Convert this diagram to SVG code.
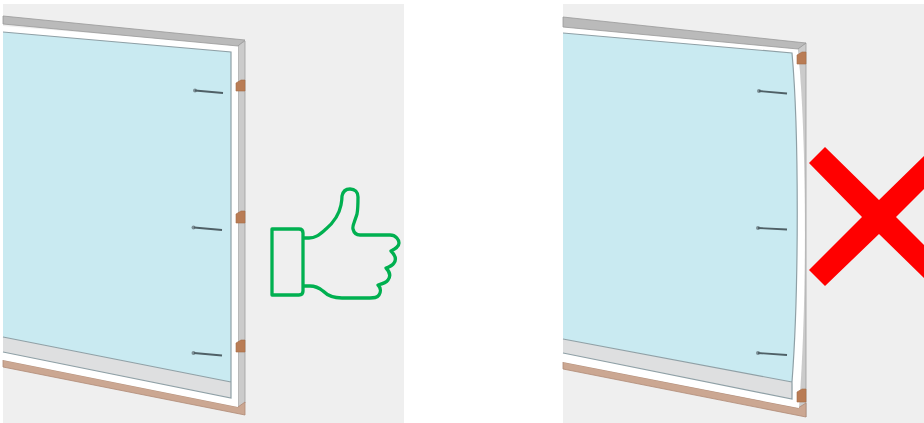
<svg xmlns="http://www.w3.org/2000/svg" width="924" height="423" viewBox="0 0 924 423">
<defs><filter id="soft" x="-2%" y="-2%" width="104%" height="104%"><feGaussianBlur stdDeviation="0.55"/></filter></defs>
<style>
.wall{fill:#efefef}
.glass{fill:#c9eaf1}
.band{fill:#dedfe0}
.frame{fill:#fff}
.rail{fill:#bababa;stroke:#999;stroke-width:.8}
.post{fill:#cbcbcb;stroke:#a0a0a0;stroke-width:.8}
.sill{fill:#cba792;stroke:#b08a76;stroke-width:.8}
.edge{fill:none;stroke:#8fa0a6;stroke-width:1.2}
.bracket{fill:#b97c55;stroke:#a66c48;stroke-width:.6}
.screw{fill:none;stroke:#4f6066;stroke-width:1.8}
.head{fill:#7d9097}
.hand{fill:none;stroke:#00b050;stroke-width:3.3;stroke-linejoin:round}
.cross{fill:#f00}
</style>
<rect width="924" height="423" fill="#fff"/>
<g id="good-panel" filter="url(#soft)">
<rect class="wall" x="3" y="4" width="401" height="419"/>
<polygon class="post" points="238,45 245,41 245,403 238,408"/>
<polygon class="sill" points="3,360 238,407 245,402 245,415 3,367"/>
<polygon class="frame" points="3,26 238,45 238,407 3,360"/>
<polygon class="glass" points="3,32 231,52 231,382 3,337"/>
<polygon class="band" points="3,337 231,382 231,398 3,352"/>
<path class="edge" d="M3 32L231 52V398L3 352M3 337L231 382"/>
<polygon class="rail" points="3,16 245,40 238,46 3,24"/>
<path class="bracket" d="M236 83l5-3h4v11h-9z"/>
<path class="bracket" d="M236 214l5-3h4v12h-9z"/>
<path class="bracket" d="M236 343l5-3h4v12h-9z"/>
<circle class="head" cx="195" cy="90.500" r="2"/>
<path class="screw" d="M195 90.500L223 93"/>
<circle class="head" cx="193.500" cy="227.500" r="2"/>
<path class="screw" d="M194 227.500L222 230"/>
<circle class="head" cx="193.500" cy="353" r="2"/>
<path class="screw" d="M194 353L222 355.500"/>
</g>
<g id="thumbs-up">
<path class="hand" d="M272 229H299Q303 229 303 233V291Q303 295 299 295H272Z"/>
<path class="hand" d="M304 238H309C316 238 320 234 326 229C333 223 339 215 341 205C342 200 342 197 342 196C343 191 346 189 350 189C355 189 358 192 358 197C358 205 358 209 357 214C355 221 352 226 353 229C354 233 356 235 360 235H390C396 235 399 240 399 243C399 247 395 249 391 251C395 255 397 259 394 263C392 266 389 267 386 268C390 272 391 276 388 280C386 283 382 284 378 285C381 288 381 292 379 295C377 298 374 298 370 298H342C333 298 328 296 323 291C318 287 315 286 310 286H304"/>
</g>
<g id="bad-panel" filter="url(#soft)">
<rect class="wall" x="563" y="4" width="365" height="423"/>
<path class="post" d="M798 48L806 43V417L798 408C804 340 804 130 798 48Z"/>
<polygon class="sill" points="563,362 798,408 806,403 806,417 563,369"/>
<path class="frame" d="M563 27L798 48C806 130 808 290 799 408L563 362Z"/>
<path class="glass" d="M563 33L792 53C799 130 799 290 792 382L563 339Z"/>
<path class="band" d="M563 339L792 382C793 388 792 394 792 399L563 353Z"/>
<path class="edge" d="M563 33L792 53C799 130 799 290 792 382V399L563 353M563 339L792 382"/>
<polygon class="rail" points="563,17 806,43 798,49 563,27"/>
<path class="bracket" d="M797 55l5-3h4v12h-9z"/>
<path class="bracket" d="M797 392l5-3h4v13h-9z"/>
<circle class="head" cx="759" cy="91" r="2"/>
<path class="screw" d="M759 91L787 93.500"/>
<circle class="head" cx="758" cy="228" r="2"/>
<path class="screw" d="M758 228L787 229.500"/>
<circle class="head" cx="758" cy="353" r="2"/>
<path class="screw" d="M758 353L787 355"/>
</g>
<g id="cross">
<polygon class="cross" points="825,147 879,200 924,156 924,189 896,217 924,245 924,278 879,234 825,286 809,270 862,217 809,163"/>
</g>
</svg>
